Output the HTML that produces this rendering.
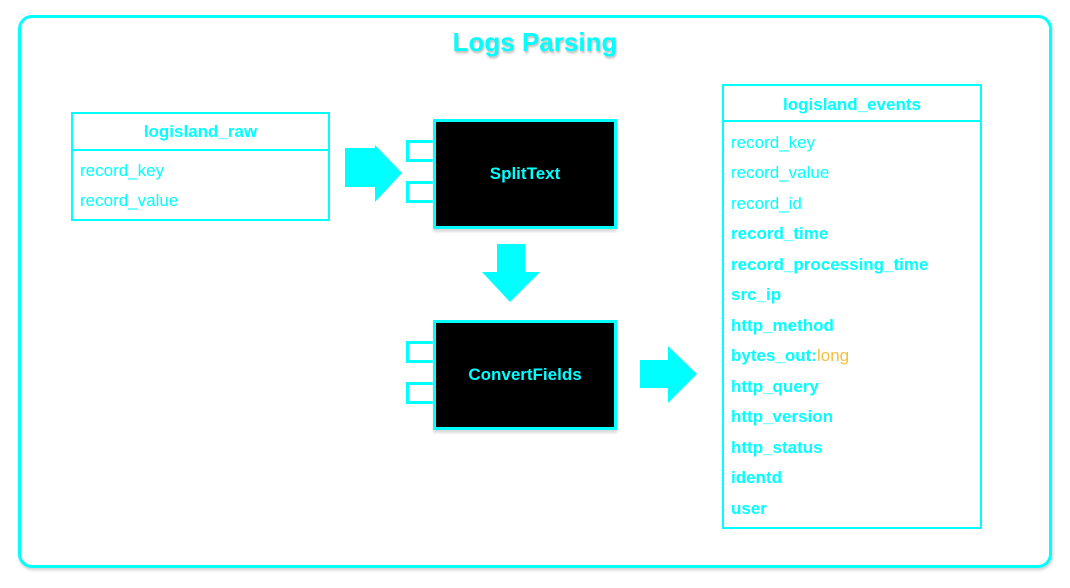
<!DOCTYPE html>
<html><head><style>
body{margin:0;width:1070px;height:588px;background:#fff;position:relative;font-family:"Liberation Sans",sans-serif;overflow:hidden}
.a{position:absolute;box-sizing:border-box}
.frame{left:18px;top:15px;width:1034px;height:553px;border:3px solid #00ffff;border-radius:14px;box-shadow:1px 2px 3px #ccc}
.title{left:0;width:1070px;top:27px;text-align:center;font-weight:bold;font-size:26px;color:#00ffff;text-shadow:1px 2px 2px #bbb}
.tbl{border:2px solid #00ffff;background:#fff}
.hd{position:absolute;left:0;right:0;text-align:center;font-weight:bold;font-size:17px;color:#00ffff}
.row{position:absolute;left:7px;font-size:17px;color:#00ffff;line-height:20px}
.b{font-weight:bold}
.box{background:#000;border:3px solid #00ffff;color:#00ffff;font-weight:bold;font-size:17px;display:flex;align-items:center;justify-content:center;box-shadow:0 3px 2px #ddd}
.port{border:3px solid #00ffff;border-right:none;background:#fff;width:28px;height:22px}
</style></head><body>
<div class="a frame"></div>
<div class="a title">Logs Parsing</div>

<div class="a tbl" style="left:71px;top:112px;width:259px;height:109px">
<div class="hd" style="top:8px">logisland_raw</div>
<div style="position:absolute;left:0;right:0;top:35px;border-top:2px solid #00ffff"></div>
<div class="row" style="top:47px">record_key</div>
<div class="row" style="top:77px">record_value</div>
</div>

<svg class="a" style="left:0;top:0" width="1070" height="588">
<polygon points="345,148 375,148 375,145 402,173 375,202 375,187 345,187" fill="#00ffff"/>
<polygon points="497,244 525,244 525,272 540,272 510,302 482,272 497,272" fill="#00ffff"/>
<polygon points="640,360 668,360 668,346 697,374 668,403 668,388 640,388" fill="#00ffff"/>
</svg>

<div class="a port" style="left:406px;top:140px"></div>
<div class="a port" style="left:406px;top:181px"></div>
<div class="a box" style="left:433px;top:119px;width:184px;height:110px">SplitText</div>

<div class="a port" style="left:406px;top:341px"></div>
<div class="a port" style="left:406px;top:382px"></div>
<div class="a box" style="left:433px;top:320px;width:184px;height:110px">ConvertFields</div>

<div class="a tbl" style="left:722px;top:84px;width:260px;height:445px">
<div class="hd" style="top:9px">logisland_events</div>
<div style="position:absolute;left:0;right:0;top:34px;border-top:2px solid #00ffff"></div>
<div class="row" style="top:47px">record_key</div>
<div class="row" style="top:77px">record_value</div>
<div class="row" style="top:108px">record_id</div>
<div class="row b" style="top:138px">record_time</div>
<div class="row b" style="top:169px">record_processing_time</div>
<div class="row b" style="top:199px">src_ip</div>
<div class="row b" style="top:230px">http_method</div>
<div class="row b" style="top:260px">bytes_out:<span style="color:#f0c040;font-weight:normal">long</span></div>
<div class="row b" style="top:291px">http_query</div>
<div class="row b" style="top:321px">http_version</div>
<div class="row b" style="top:352px">http_status</div>
<div class="row b" style="top:382px">identd</div>
<div class="row b" style="top:413px">user</div>
</div>
</body></html>
